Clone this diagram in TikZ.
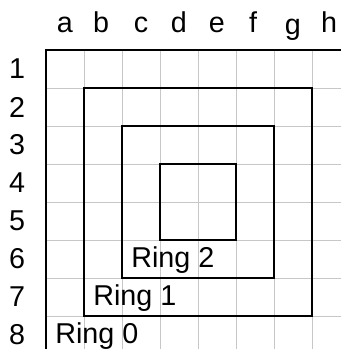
\documentclass[tikz,border=0pt]{standalone}
\usepackage{fontspec}
\setmainfont{Liberation Sans}
\tikzset{
  lbl/.style={font=\fontsize{21.5}{24}\selectfont, inner sep=0pt},
  ring/.style={draw=black, line width=1.1pt},
  cell/.style={draw=black!22, line width=0.5pt}
}
\begin{document}
\begin{tikzpicture}[scale=1.0]
    \useasboundingbox (-1.21,1.316) rectangle (7.76,-7.87);
    \clip (-1.21,1.316) rectangle (7.76,-7.87);
    % board
    \draw[cell] (0,0) grid (8.5,-8.5);
    \draw[ring] (0,0) rectangle (8,-8);
    \draw[ring] (1,-1) rectangle (7,-7);
    \draw[ring] (2,-2) rectangle (6,-6);
    \draw[ring] (3,-3) rectangle (5,-5);
    % columns
    \node[lbl, anchor=base] (ca) at (0.5,0.45) {a};
    \node[lbl, anchor=base] (cb) at (1.45,0.45) {b};
    \node[lbl, anchor=base] (cc) at (2.5,0.45) {c};
    \node[lbl, anchor=base] (cd) at (3.5,0.45) {d};
    \node[lbl, anchor=base] (ce) at (4.5,0.45) {e};
    \node[lbl, anchor=base] (cf) at (5.45,0.45) {f};
    \node[lbl, anchor=base] (cg) at (6.5,0.40) {g};
    \node[lbl, anchor=base] (ch) at (7.45,0.45) {h};
    % rows
    \node[lbl] (r1) at (-0.76,-0.5) {1};
    \node[lbl] (r2) at (-0.76,-1.5) {2};
    \node[lbl] (r3) at (-0.76,-2.5) {3};
    \node[lbl] (r4) at (-0.76,-3.5) {4};
    \node[lbl] (r5) at (-0.76,-4.5) {5};
    \node[lbl] (r6) at (-0.76,-5.5) {6};
    \node[lbl] (r7) at (-0.76,-6.5) {7};
    \node[lbl] (r8) at (-0.76,-7.5) {8};
    % ring names
    \node[lbl, anchor=base west] (ring0) at (0.24,-7.73) {Ring 0};
    \node[lbl, anchor=base west] (ring1) at (1.24,-6.73) {Ring 1};
    \node[lbl, anchor=base west] (ring2) at (2.24,-5.73) {Ring 2};
\end{tikzpicture}
\end{document}
